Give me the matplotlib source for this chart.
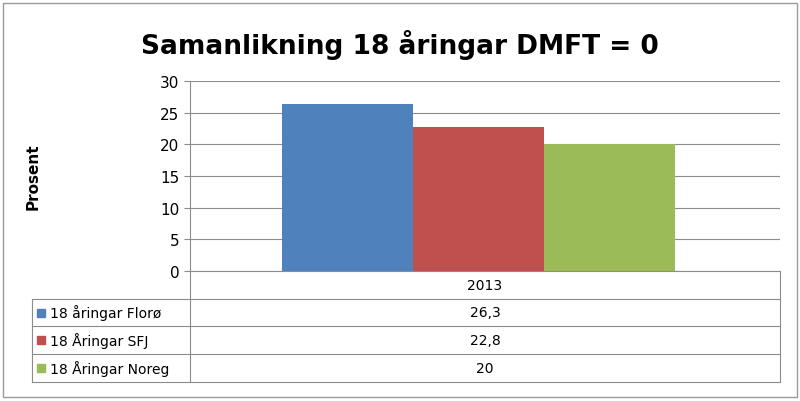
import matplotlib.pyplot as plt
from matplotlib.lines import Line2D
from matplotlib.patches import Rectangle

categories = ['2013']
series_names = ['18 åringar Florø', '18 Åringar SFJ', '18 Åringar Noreg']
series_values = [[26.3], [22.8], [20.0]]
value_labels = ['26,3', '22,8', '20']
colors = ['#4F81BD', '#C0504D', '#9BBB59']

W, H = 800, 402
fig = plt.figure(figsize=(W / 100, H / 100), dpi=100)

def fx(px):
    return px / W

def fy(py):
    return 1 - py / H

# outer border
fig.add_artist(Rectangle((fx(3), fy(398)), fx(794), 394 / H, fill=False,
                         edgecolor='#9a9a9a', lw=1, transform=fig.transFigure))

fig.text(0.5, fy(45), 'Samanlikning 18 åringar DMFT = 0', ha='center', va='center',
         fontsize=19, fontweight='bold', family='DejaVu Sans')

left, right, top, bottom = 190, 780, 82, 272
ax = fig.add_axes([fx(left), fy(bottom), fx(right - left), (bottom - top) / H])
width = 0.222
for i, (vals, c) in enumerate(zip(series_values, colors)):
    xs = [k + (i - 1) * width - 0.011 for k in range(len(categories))]
    ax.bar(xs, vals, width=width, color=c, zorder=3)
ax.set_xlim(-0.5, 0.5)
ax.set_ylim(0, 30)
ax.set_yticks(range(0, 31, 5))
ax.yaxis.grid(True, color='#8c8c8c', lw=0.8, zorder=0)
ax.set_xticks([])
for s in ['top', 'right', 'bottom']:
    ax.spines[s].set_visible(False)
ax.spines['left'].set_color('#8c8c8c')
ax.tick_params(axis='y', labelsize=11, length=4, color='#8c8c8c')
ax.set_ylabel('Prosent', fontsize=11, fontweight='bold')
ax.yaxis.set_label_coords(-0.254, 0.5)

# data table
rows = [272, 300, 327, 355, 383]
tl, tr = 32, 780
lc = '#8c8c8c'
for i, y in enumerate(rows):
    x0 = left if i == 0 else tl
    fig.add_artist(Line2D([fx(x0), fx(tr)], [fy(y), fy(y)], color=lc, lw=0.8))
fig.add_artist(Line2D([fx(tr), fx(tr)], [fy(272), fy(383)], color=lc, lw=0.8))
fig.add_artist(Line2D([fx(left), fx(left)], [fy(272), fy(383)], color=lc, lw=0.8))
fig.add_artist(Line2D([fx(tl), fx(tl)], [fy(300), fy(383)], color=lc, lw=0.8))

mid = (left + tr) / 2
fig.text(fx(mid), fy(286), categories[0], ha='center', va='center', fontsize=10)
for i, (name, lab, c) in enumerate(zip(series_names, value_labels, colors)):
    yc = (rows[i + 1] + rows[i + 2]) / 2
    fig.add_artist(Rectangle((fx(37), fy(yc + 4)), fx(8), 8 / H, color=c,
                             transform=fig.transFigure))
    fig.text(fx(50), fy(yc), name, ha='left', va='center', fontsize=10)
    fig.text(fx(mid), fy(yc), lab, ha='center', va='center', fontsize=10)

fig.savefig('out.png', dpi=100)
